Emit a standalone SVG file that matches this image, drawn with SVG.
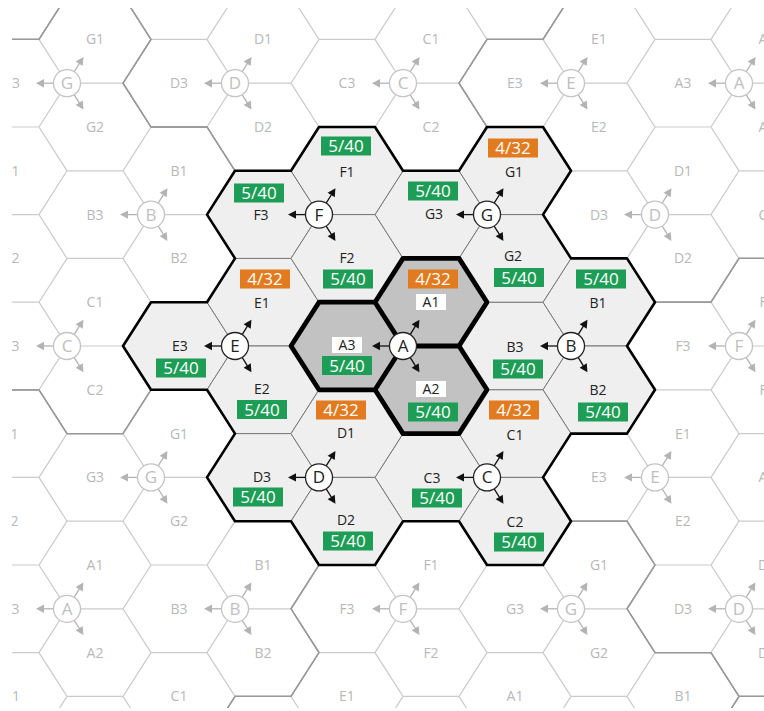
<svg xmlns="http://www.w3.org/2000/svg" xmlns:xlink="http://www.w3.org/1999/xlink" width="764" height="711" viewBox="0 0 764 711">
<style>
.grid{fill:none;stroke:#cbcbcb;stroke-width:1.2}
.cbnd{fill:none;stroke:#999;stroke-width:1.3}
.hx{fill:#efefef;stroke:#777;stroke-width:1}
.hxa{fill:#c2c2c2;stroke:#777;stroke-width:1}
.outline{fill:none;stroke:#000;stroke-width:2.6;stroke-linejoin:round}
.athick{fill:none;stroke:#000;stroke-width:4.8;stroke-linejoin:round}
.lbl{font-family:"Open Sans","DejaVu Sans",sans-serif;font-size:14px;fill:#222;text-anchor:middle}
.glbl{font-family:"Open Sans","DejaVu Sans",sans-serif;font-size:14px;fill:#b8b8b8;text-anchor:middle}
.bx{font-family:"Open Sans","DejaVu Sans",sans-serif;font-size:17px;fill:#fff;text-anchor:middle}
.g{fill:#1d9d55}
.o{fill:#e27b1f}
.wb{fill:#fff}
.sc{fill:#fff;stroke:#222;stroke-width:1.3}
.gsc{fill:#fff;stroke:#c4c4c4;stroke-width:1.3}
.sl{font-family:"Open Sans","DejaVu Sans",sans-serif;font-size:17px;fill:#222;text-anchor:middle}
.gsl{font-family:"Open Sans","DejaVu Sans",sans-serif;font-size:17px;fill:#c0c0c0;text-anchor:middle}
</style>
<defs>
<clipPath id="cp"><rect x="12" y="8" width="752" height="700"/></clipPath>
<path id="hexset" d="M291,346L319,302.2L375,302.2L403,346L375,389.8L319,389.8Z M375,302.2L403,258.4L459,258.4L487,302.2L459,346L403,346Z M375,389.8L403,346L459,346L487,389.8L459,433.6L403,433.6Z M459,346L487,302.2L543,302.2L571,346L543,389.8L487,389.8Z M543,302.2L571,258.4L627,258.4L655,302.2L627,346L571,346Z M543,389.8L571,346L627,346L655,389.8L627,433.6L571,433.6Z M123,346L151,302.2L207,302.2L235,346L207,389.8L151,389.8Z M207,302.2L235,258.4L291,258.4L319,302.2L291,346L235,346Z M207,389.8L235,346L291,346L319,389.8L291,433.6L235,433.6Z M375,214.6L403,170.8L459,170.8L487,214.6L459,258.4L403,258.4Z M459,170.8L487,127L543,127L571,170.8L543,214.6L487,214.6Z M459,258.4L487,214.6L543,214.6L571,258.4L543,302.2L487,302.2Z M207,214.6L235,170.8L291,170.8L319,214.6L291,258.4L235,258.4Z M291,170.8L319,127L375,127L403,170.8L375,214.6L319,214.6Z M291,258.4L319,214.6L375,214.6L403,258.4L375,302.2L319,302.2Z M375,477.4L403,433.6L459,433.6L487,477.4L459,521.2L403,521.2Z M459,433.6L487,389.8L543,389.8L571,433.6L543,477.4L487,477.4Z M459,521.2L487,477.4L543,477.4L571,521.2L543,565L487,565Z M207,477.4L235,433.6L291,433.6L319,477.4L291,521.2L235,521.2Z M291,433.6L319,389.8L375,389.8L403,433.6L375,477.4L319,477.4Z M291,521.2L319,477.4L375,477.4L403,521.2L375,565L319,565Z"/>
<path id="clout" d="M319,127L375,127L403,170.8L459,170.8L487,127L543,127L571,170.8L543,214.6L571,258.4L627,258.4L655,302.2L627,346L655,389.8L627,433.6L571,433.6L543,477.4L571,521.2L543,565L487,565L459,521.2L403,521.2L375,565L319,565L291,521.2L235,521.2L207,477.4L235,433.6L207,389.8L151,389.8L123,346L151,302.2L207,302.2L235,258.4L207,214.6L235,170.8L291,170.8Z"/>
<g id="ar1"><line x1="13.5" y1="0" x2="24" y2="0" stroke="currentColor" stroke-width="1.3"/><path d="M31,0L23,-4.2L23,4.2Z" fill="currentColor"/></g>
<g id="arrows"><use href="#ar1" transform="rotate(180)"/><use href="#ar1" transform="rotate(-58)"/><use href="#ar1" transform="rotate(58)"/></g>
</defs>
<rect width="764" height="711" fill="#fff"/>
<g id="background" clip-path="url(#cp)">
<g id="grid">
<use href="#hexset" class="grid" transform="translate(-336,262.8)"/>
<use href="#hexset" class="grid" transform="translate(336,-262.8)"/>
<use href="#hexset" class="grid" transform="translate(-420,-131.4)"/>
<use href="#hexset" class="grid" transform="translate(-84,-394.2)"/>
<use href="#hexset" class="grid" transform="translate(-504,-525.6)"/>
<use href="#hexset" class="grid" transform="translate(84,394.2)"/>
<use href="#hexset" class="grid" transform="translate(420,131.4)"/>
<use href="#hexset" class="grid" transform="translate(504,525.6)"/>
</g>
<g id="cluster-bounds">
<use href="#clout" class="cbnd" transform="translate(-336,262.8)"/>
<use href="#clout" class="cbnd" transform="translate(336,-262.8)"/>
<use href="#clout" class="cbnd" transform="translate(-420,-131.4)"/>
<use href="#clout" class="cbnd" transform="translate(-84,-394.2)"/>
<use href="#clout" class="cbnd" transform="translate(-504,-525.6)"/>
<use href="#clout" class="cbnd" transform="translate(84,394.2)"/>
<use href="#clout" class="cbnd" transform="translate(420,131.4)"/>
<use href="#clout" class="cbnd" transform="translate(504,525.6)"/>
</g>
<g id="gray-sites" color="#b4b4b4">
<g id="gs1"><use href="#arrows" x="67" y="83.2"/><circle class="gsc" cx="67" cy="83.2" r="13.5"/><text class="gsl" x="67" y="89.2">G</text></g>
<g id="gs2"><use href="#arrows" x="235" y="83.2"/><circle class="gsc" cx="235" cy="83.2" r="13.5"/><text class="gsl" x="235" y="89.2">D</text></g>
<g id="gs3"><use href="#arrows" x="403" y="83.2"/><circle class="gsc" cx="403" cy="83.2" r="13.5"/><text class="gsl" x="403" y="89.2">C</text></g>
<g id="gs4"><use href="#arrows" x="571" y="83.2"/><circle class="gsc" cx="571" cy="83.2" r="13.5"/><text class="gsl" x="571" y="89.2">E</text></g>
<g id="gs5"><use href="#arrows" x="739" y="83.2"/><circle class="gsc" cx="739" cy="83.2" r="13.5"/><text class="gsl" x="739" y="89.2">A</text></g>
<g id="gs6"><use href="#arrows" x="151" y="214.6"/><circle class="gsc" cx="151" cy="214.6" r="13.5"/><text class="gsl" x="151" y="220.6">B</text></g>
<g id="gs7"><use href="#arrows" x="655" y="214.6"/><circle class="gsc" cx="655" cy="214.6" r="13.5"/><text class="gsl" x="655" y="220.6">D</text></g>
<g id="gs8"><use href="#arrows" x="67" y="346"/><circle class="gsc" cx="67" cy="346" r="13.5"/><text class="gsl" x="67" y="352">C</text></g>
<g id="gs9"><use href="#arrows" x="739" y="346"/><circle class="gsc" cx="739" cy="346" r="13.5"/><text class="gsl" x="739" y="352">F</text></g>
<g id="gs10"><use href="#arrows" x="151" y="477.4"/><circle class="gsc" cx="151" cy="477.4" r="13.5"/><text class="gsl" x="151" y="483.4">G</text></g>
<g id="gs11"><use href="#arrows" x="655" y="477.4"/><circle class="gsc" cx="655" cy="477.4" r="13.5"/><text class="gsl" x="655" y="483.4">E</text></g>
<g id="gs12"><use href="#arrows" x="67" y="608.8"/><circle class="gsc" cx="67" cy="608.8" r="13.5"/><text class="gsl" x="67" y="614.8">A</text></g>
<g id="gs13"><use href="#arrows" x="235" y="608.8"/><circle class="gsc" cx="235" cy="608.8" r="13.5"/><text class="gsl" x="235" y="614.8">B</text></g>
<g id="gs14"><use href="#arrows" x="403" y="608.8"/><circle class="gsc" cx="403" cy="608.8" r="13.5"/><text class="gsl" x="403" y="614.8">F</text></g>
<g id="gs15"><use href="#arrows" x="571" y="608.8"/><circle class="gsc" cx="571" cy="608.8" r="13.5"/><text class="gsl" x="571" y="614.8">G</text></g>
<g id="gs16"><use href="#arrows" x="739" y="608.8"/><circle class="gsc" cx="739" cy="608.8" r="13.5"/><text class="gsl" x="739" y="614.8">D</text></g>
</g>
<g id="gray-labels" class="glbl">
<text class="glbl" x="95" y="44">G1</text><text class="glbl" x="95" y="132">G2</text><text class="glbl" x="11" y="88">G3</text>
<text class="glbl" x="263" y="44">D1</text><text class="glbl" x="263" y="132">D2</text><text class="glbl" x="179" y="88">D3</text>
<text class="glbl" x="431" y="44">C1</text><text class="glbl" x="431" y="132">C2</text><text class="glbl" x="347" y="88">C3</text>
<text class="glbl" x="599" y="44">E1</text><text class="glbl" x="599" y="132">E2</text><text class="glbl" x="515" y="88">E3</text>
<text class="glbl" x="767" y="44">A1</text><text class="glbl" x="767" y="132">A2</text><text class="glbl" x="683" y="88">A3</text>
<text class="glbl" x="11" y="175.8">A1</text><text class="glbl" x="11" y="263.4">A2</text>
<text class="glbl" x="179" y="175.8">B1</text><text class="glbl" x="179" y="263.4">B2</text><text class="glbl" x="95" y="219.6">B3</text>
<text class="glbl" x="683" y="175.8">D1</text><text class="glbl" x="683" y="263.4">D2</text><text class="glbl" x="599" y="219.6">D3</text>
<text class="glbl" x="767" y="219.6">C3</text>
<text class="glbl" x="95" y="307.2">C1</text><text class="glbl" x="95" y="394.8">C2</text><text class="glbl" x="11" y="351">C3</text>
<text class="glbl" x="767" y="307.2">F1</text><text class="glbl" x="767" y="394.8">F2</text><text class="glbl" x="683" y="351">F3</text>
<text class="glbl" x="11" y="438.6">F1</text><text class="glbl" x="11" y="526.2">F2</text>
<text class="glbl" x="179" y="438.6">G1</text><text class="glbl" x="179" y="526.2">G2</text><text class="glbl" x="95" y="482.4">G3</text>
<text class="glbl" x="683" y="438.6">E1</text><text class="glbl" x="683" y="526.2">E2</text><text class="glbl" x="599" y="482.4">E3</text>
<text class="glbl" x="767" y="482.4">A3</text>
<text class="glbl" x="95" y="570">A1</text><text class="glbl" x="95" y="657.6">A2</text><text class="glbl" x="11" y="613.8">A3</text>
<text class="glbl" x="263" y="570">B1</text><text class="glbl" x="263" y="657.6">B2</text><text class="glbl" x="179" y="613.8">B3</text>
<text class="glbl" x="431" y="570">F1</text><text class="glbl" x="431" y="657.6">F2</text><text class="glbl" x="347" y="613.8">F3</text>
<text class="glbl" x="599" y="570">G1</text><text class="glbl" x="599" y="657.6">G2</text><text class="glbl" x="515" y="613.8">G3</text>
<text class="glbl" x="767" y="570">D1</text><text class="glbl" x="767" y="657.6">D2</text><text class="glbl" x="683" y="613.8">D3</text>
<text class="glbl" x="11" y="701.4">D1</text><text class="glbl" x="179" y="701.4">C1</text><text class="glbl" x="347" y="701.4">E1</text><text class="glbl" x="515" y="701.4">A1</text><text class="glbl" x="683" y="701.4">B1</text>
</g>
</g>
<g id="cells">
<g id="A3"><path class="hxa" d="M291,346L319,302.2L375,302.2L403,346L375,389.8L319,389.8Z"/><rect class="wb" x="332" y="337" width="30" height="16"/><text class="lbl" x="347" y="350">A3</text><rect class="g" x="322" y="356" width="50" height="19"/><text class="bx" x="347" y="371.5">5/40</text></g>
<g id="A1"><path class="hxa" d="M375,302.2L403,258.4L459,258.4L487,302.2L459,346L403,346Z"/><rect class="o" x="408" y="269.5" width="50" height="19"/><text class="bx" x="433" y="285">4/32</text><rect class="wb" x="416" y="294" width="30" height="16"/><text class="lbl" x="431" y="307">A1</text></g>
<g id="A2"><path class="hxa" d="M375,389.8L403,346L459,346L487,389.8L459,433.6L403,433.6Z"/><rect class="wb" x="416" y="381" width="30" height="16"/><text class="lbl" x="431" y="394">A2</text><rect class="g" x="408" y="402.5" width="50" height="19"/><text class="bx" x="433" y="418">5/40</text></g>
<g id="B3"><path class="hx" d="M459,346L487,302.2L543,302.2L571,346L543,389.8L487,389.8Z"/><text class="lbl" x="515" y="352">B3</text><rect class="g" x="493" y="359.5" width="50" height="19"/><text class="bx" x="518" y="375">5/40</text></g>
<g id="B1"><path class="hx" d="M543,302.2L571,258.4L627,258.4L655,302.2L627,346L571,346Z"/><rect class="g" x="576" y="269.5" width="50" height="19"/><text class="bx" x="601" y="285">5/40</text><text class="lbl" x="598" y="308">B1</text></g>
<g id="B2"><path class="hx" d="M543,389.8L571,346L627,346L655,389.8L627,433.6L571,433.6Z"/><text class="lbl" x="598" y="395">B2</text><rect class="g" x="578" y="402.5" width="50" height="19"/><text class="bx" x="603" y="418">5/40</text></g>
<g id="E3"><path class="hx" d="M123,346L151,302.2L207,302.2L235,346L207,389.8L151,389.8Z"/><text class="lbl" x="180" y="351">E3</text><rect class="g" x="156" y="358.5" width="50" height="19"/><text class="bx" x="181" y="374">5/40</text></g>
<g id="E1"><path class="hx" d="M207,302.2L235,258.4L291,258.4L319,302.2L291,346L235,346Z"/><rect class="o" x="240" y="269.5" width="50" height="19"/><text class="bx" x="265" y="285">4/32</text><text class="lbl" x="262" y="308">E1</text></g>
<g id="E2"><path class="hx" d="M207,389.8L235,346L291,346L319,389.8L291,433.6L235,433.6Z"/><text class="lbl" x="262" y="394">E2</text><rect class="g" x="237" y="400" width="50" height="19"/><text class="bx" x="262" y="415.5">5/40</text></g>
<g id="G3"><path class="hx" d="M375,214.6L403,170.8L459,170.8L487,214.6L459,258.4L403,258.4Z"/><rect class="g" x="408" y="181.5" width="50" height="19"/><text class="bx" x="433" y="197">5/40</text><text class="lbl" x="434" y="219">G3</text></g>
<g id="G1"><path class="hx" d="M459,170.8L487,127L543,127L571,170.8L543,214.6L487,214.6Z"/><rect class="o" x="488" y="138.5" width="50" height="19"/><text class="bx" x="513" y="154">4/32</text><text class="lbl" x="514" y="177">G1</text></g>
<g id="G2"><path class="hx" d="M459,258.4L487,214.6L543,214.6L571,258.4L543,302.2L487,302.2Z"/><text class="lbl" x="513" y="261">G2</text><rect class="g" x="494" y="268" width="50" height="19"/><text class="bx" x="519" y="283.5">5/40</text></g>
<g id="F3"><path class="hx" d="M207,214.6L235,170.8L291,170.8L319,214.6L291,258.4L235,258.4Z"/><rect class="g" x="234" y="183.5" width="50" height="19"/><text class="bx" x="259" y="199">5/40</text><text class="lbl" x="261" y="220">F3</text></g>
<g id="F1"><path class="hx" d="M291,170.8L319,127L375,127L403,170.8L375,214.6L319,214.6Z"/><rect class="g" x="321" y="136.5" width="50" height="19"/><text class="bx" x="346" y="152">5/40</text><text class="lbl" x="347" y="177">F1</text></g>
<g id="F2"><path class="hx" d="M291,258.4L319,214.6L375,214.6L403,258.4L375,302.2L319,302.2Z"/><text class="lbl" x="347" y="263">F2</text><rect class="g" x="323" y="269.5" width="50" height="19"/><text class="bx" x="348" y="285">5/40</text></g>
<g id="C3"><path class="hx" d="M375,477.4L403,433.6L459,433.6L487,477.4L459,521.2L403,521.2Z"/><text class="lbl" x="432" y="483">C3</text><rect class="g" x="412" y="488.5" width="50" height="19"/><text class="bx" x="437" y="504">5/40</text></g>
<g id="C1"><path class="hx" d="M459,433.6L487,389.8L543,389.8L571,433.6L543,477.4L487,477.4Z"/><rect class="o" x="489" y="400.5" width="50" height="19"/><text class="bx" x="514" y="416">4/32</text><text class="lbl" x="515" y="440">C1</text></g>
<g id="C2"><path class="hx" d="M459,521.2L487,477.4L543,477.4L571,521.2L543,565L487,565Z"/><text class="lbl" x="515" y="527">C2</text><rect class="g" x="494" y="532.5" width="50" height="19"/><text class="bx" x="519" y="548">5/40</text></g>
<g id="D3"><path class="hx" d="M207,477.4L235,433.6L291,433.6L319,477.4L291,521.2L235,521.2Z"/><text class="lbl" x="262" y="482">D3</text><rect class="g" x="233" y="487.5" width="50" height="19"/><text class="bx" x="258" y="503">5/40</text></g>
<g id="D1"><path class="hx" d="M291,433.6L319,389.8L375,389.8L403,433.6L375,477.4L319,477.4Z"/><rect class="o" x="316" y="400.5" width="50" height="19"/><text class="bx" x="341" y="416">4/32</text><text class="lbl" x="346" y="438">D1</text></g>
<g id="D2"><path class="hx" d="M291,521.2L319,477.4L375,477.4L403,521.2L375,565L319,565Z"/><text class="lbl" x="346" y="525">D2</text><rect class="g" x="323" y="531.5" width="50" height="19"/><text class="bx" x="348" y="547">5/40</text></g>
</g>
<g id="connectors">
<use href="#clout" class="outline"/>
<path class="athick" d="M291,346L319,302.2L375,302.2L403,258.4L459,258.4L487,302.2L459,346L487,389.8L459,433.6L403,433.6L375,389.8L319,389.8Z M375,302.2L403,346L375,389.8 M403,346L459,346"/>
</g>
<g id="sites" color="#111">
<g id="site-A"><use href="#arrows" x="403" y="346"/><circle class="sc" cx="403" cy="346" r="13.5"/><text class="sl" x="403" y="352">A</text></g>
<g id="site-B"><use href="#arrows" x="571" y="346"/><circle class="sc" cx="571" cy="346" r="13.5"/><text class="sl" x="571" y="352">B</text></g>
<g id="site-E"><use href="#arrows" x="235" y="346"/><circle class="sc" cx="235" cy="346" r="13.5"/><text class="sl" x="235" y="352">E</text></g>
<g id="site-G"><use href="#arrows" x="487" y="214.6"/><circle class="sc" cx="487" cy="214.6" r="13.5"/><text class="sl" x="487" y="220.6">G</text></g>
<g id="site-F"><use href="#arrows" x="319" y="214.6"/><circle class="sc" cx="319" cy="214.6" r="13.5"/><text class="sl" x="319" y="220.6">F</text></g>
<g id="site-C"><use href="#arrows" x="487" y="477.4"/><circle class="sc" cx="487" cy="477.4" r="13.5"/><text class="sl" x="487" y="483.4">C</text></g>
<g id="site-D"><use href="#arrows" x="319" y="477.4"/><circle class="sc" cx="319" cy="477.4" r="13.5"/><text class="sl" x="319" y="483.4">D</text></g>
</g>
</svg>
